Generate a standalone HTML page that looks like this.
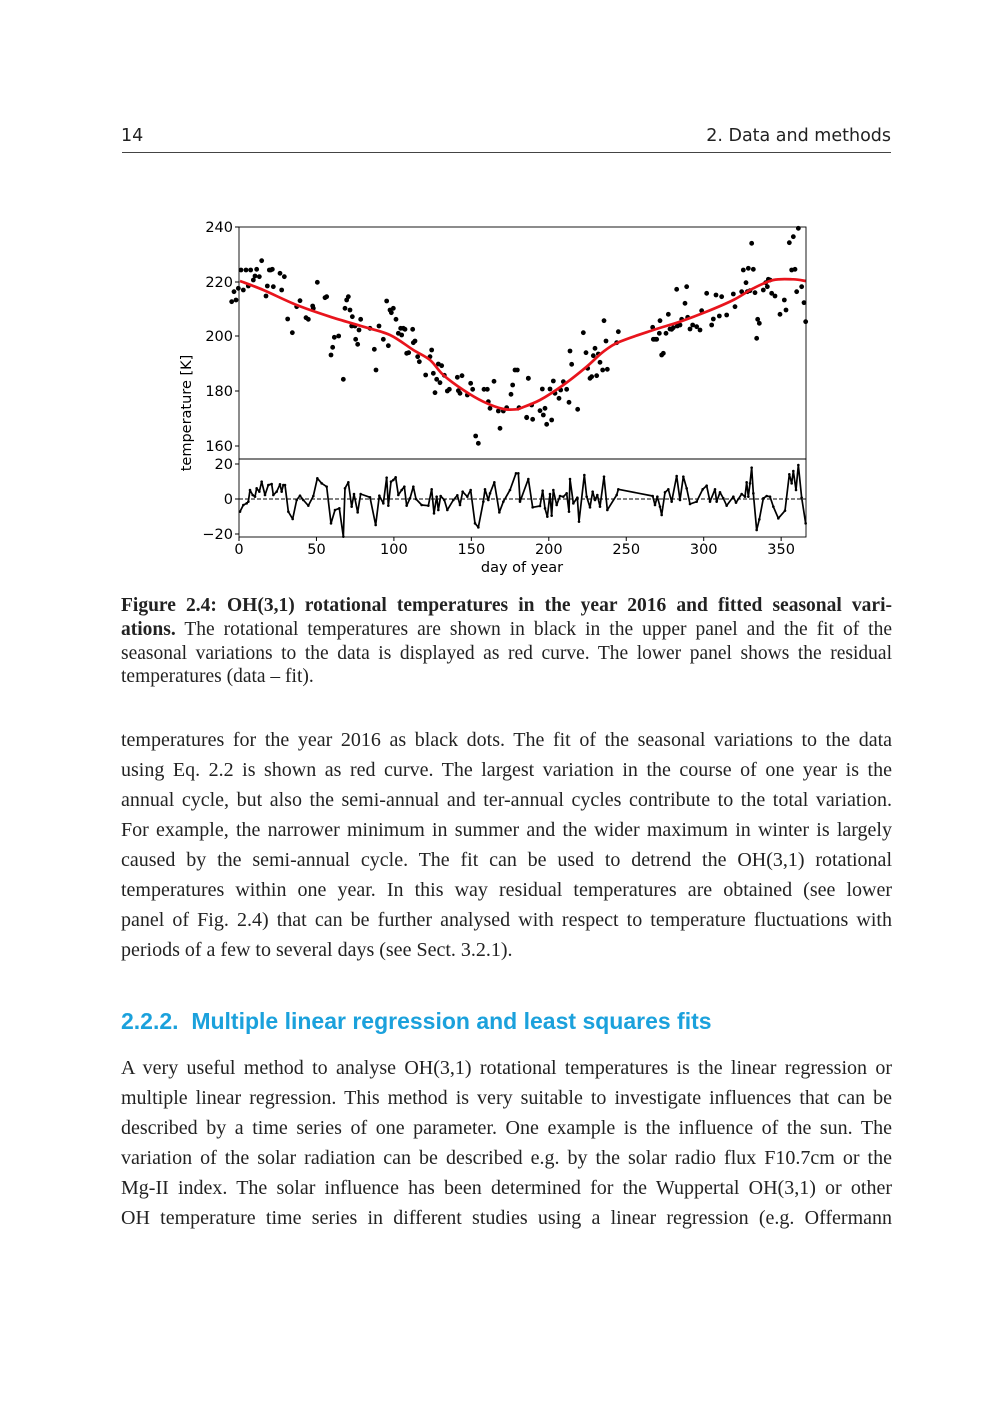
<!DOCTYPE html>
<html><head><meta charset="utf-8">
<style>
body{margin:0;background:#fff;}
.page{position:relative;width:1000px;height:1414px;overflow:hidden;font-family:"Liberation Serif",serif;color:#222;}
.hdr{position:absolute;top:126px;font-family:"DejaVu Sans","Liberation Sans",sans-serif;font-size:17.5px;}
.rule{position:absolute;left:122px;width:769px;top:152px;border-top:1px solid #444;}
.cap{position:absolute;left:121px;width:771px;top:594px;font-size:19.5px;line-height:23.8px;}
.body{position:absolute;left:121px;width:771px;font-size:20px;line-height:30px;}
.l{text-align:justify;text-align-last:justify;white-space:nowrap;}
.e{text-align:left;white-space:nowrap;}
h3{position:absolute;left:121px;top:1008px;margin:0;font-family:"Liberation Sans",sans-serif;font-weight:bold;font-size:23px;color:#1ba1dc;}
</style></head><body><div class="page">
<div class="hdr" style="left:121px">14</div>
<div class="hdr" style="right:109px">2. Data and methods</div>
<div class="rule"></div>
<svg id="ch" width="1000" height="600" style="position:absolute;left:0;top:0" font-family="DejaVu Sans, Liberation Sans, sans-serif" font-size="14.5"></svg>
<div class="cap">
<div class="l"><b>Figure 2.4: OH(3,1) rotational temperatures in the year 2016 and fitted seasonal vari-</b></div>
<div class="l"><b>ations.</b> The rotational temperatures are shown in black in the upper panel and the fit of the</div>
<div class="l">seasonal variations to the data is displayed as red curve. The lower panel shows the residual</div>
<div class="e">temperatures (data – fit).</div>
</div>
<div class="body" style="top:725px">
<div class="l">temperatures for the year 2016 as black dots. The fit of the seasonal variations to the data</div>
<div class="l">using Eq. 2.2 is shown as red curve. The largest variation in the course of one year is the</div>
<div class="l">annual cycle, but also the semi-annual and ter-annual cycles contribute to the total variation.</div>
<div class="l">For example, the narrower minimum in summer and the wider maximum in winter is largely</div>
<div class="l">caused by the semi-annual cycle. The fit can be used to detrend the OH(3,1) rotational</div>
<div class="l">temperatures within one year. In this way residual temperatures are obtained (see lower</div>
<div class="l">panel of Fig. 2.4) that can be further analysed with respect to temperature fluctuations with</div>
<div class="e">periods of a few to several days (see Sect. 3.2.1).</div>
</div>
<h3>2.2.2.&nbsp; Multiple linear regression and least squares fits</h3>
<div class="body" style="top:1053px">
<div class="l">A very useful method to analyse OH(3,1) rotational temperatures is the linear regression or</div>
<div class="l">multiple linear regression. This method is very suitable to investigate influences that can be</div>
<div class="l">described by a time series of one parameter. One example is the influence of the sun. The</div>
<div class="l">variation of the solar radiation can be described e.g. by the solar radio flux F10.7cm or the</div>
<div class="l">Mg-II index. The solar influence has been determined for the Wuppertal OH(3,1) or other</div>
<div class="l">OH temperature time series in different studies using a linear regression (e.g. Offermann</div>
</div>
<script>
var s=document.getElementById('ch'),h='';
function X(b,z){return b+z/3}function Y(z){return 220+z/3}
var d1=[5,245,12,215,18,240,25,205,33,150,40,210,48,150,55,198,62,150,70,180,75,168,80,148,88,170,95,122,108,228,112,198,118,150,122,150,127,148,130,200,150,160,155,210,163,170,173,297,187,338,200,260,210,242,228,293,235,298,248,258,250,265,262,187,285,233,290,230,303,405,308,382,313,352,326,348,340,478,345,265,350,240,355,230,360,270,367,290,365,318,375,318,377,358,383,373,387,330,392,298,420,325,433,388,438,450,447,318,460,358,470,243,475,377,480,270,484,278,490,265,498,298,505,340,512,325,515,345,520,325,525,328,530,400,536,398,548,328,550,368,555,363,563,410,568,425,587,465,600,410,605,390,610,460,615,518,620,478,625,432,630,488,635,437,643,466,652,513,658,508,682,472,685,512,690,520,696,467,712,525,722,490,728,508,737,648,745,670,762,508,772,508,775,545,780,565,792,484,805,573,810,625,820,573,830,563,843,523,848,495,855,450,862,450,867,563,890,593,895,475];
var d2=[20,592,25,475,38,598,35,555,60,572,67,507,70,585,75,565,80,613,90,507,95,600,100,483,105,520,117,535,122,510,130,485,140,508,147,547,150,393,155,433,173,568,190,338,198,398,203,445,210,475,215,470,220,407,225,385,230,467,235,402,240,427,248,450,252,302,258,363,262,448,290,368,295,335,398,322,400,358,405,358,410,358,418,340,420,302,425,405,430,400,438,340,445,283,450,327,455,328,460,323,470,208,472,318,480,315,485,298,495,250,500,200,503,292,510,327,518,315,530,320,540,330,545,272,560,220,575,315,580,297,588,225,598,288,605,230,620,285,640,222,645,260,665,215,670,150,678,188,682,215,685,145,690,212,695,70,700,148,705,218,710,355,713,298,718,310,730,210,737,188,742,200,745,178,750,180,755,220,765,228,780,283,793,240,798,270,808,68,815,150,820,50,825,148,830,215,835,25,845,200,852,248,857,305];
var r1=[30,875,40,855,50,850,55,845,60,810,68,825,75,830,80,805,88,815,95,785,105,825,115,795,125,792,130,825,140,815,150,793,155,815,160,795,165,795,175,875,188,897,200,840,210,827,220,840,235,857,250,828,262,775,275,790,290,800,303,910,315,870,328,865,340,950,345,805,355,787,365,860,372,822,383,877,392,822,420,832,437,915,448,827,460,850,470,773,475,857,483,785,490,780,497,772,505,825,515,810,523,800,530,857,540,835,550,800,558,837,575,855,595,857,605,808,612,880,620,830,625,870,632,828,643,840,652,870,670,840,682,826,690,855,698,815,712,830,722,810,735,910,745,922,760,845,765,808,775,840,780,820,793,787,808,877,820,845,840,810,858,760,865,760,870,840];
var r2=[0,845,25,777,38,862,60,858,68,812,75,865,82,890,90,822,95,887,100,810,110,855,120,828,130,830,140,820,147,875,150,777,160,850,172,833,177,905,193,765,200,830,210,862,218,815,225,840,232,825,240,860,252,770,262,870,290,825,295,808,398,828,405,855,412,830,420,860,425,885,435,817,445,808,455,845,470,768,480,840,490,770,500,805,510,852,530,845,548,808,560,797,570,845,585,808,590,845,600,817,610,835,620,857,640,830,648,848,665,822,675,830,680,787,685,830,690,790,695,743,700,820,710,930,718,898,730,835,740,828,750,830,760,860,775,895,795,872,808,763,815,790,820,753,828,810,835,735,845,833,857,910];
var c1=[30,183,100,210,200,255,300,290,400,320,480,345,550,390,600,420,640,465,700,510,760,545,820,567,860,568];
var c2=[0,565,60,540,130,495,200,440,250,395,300,365,400,330,480,305,560,275,640,240,700,205,760,180,820,178,857,183];
function pts(a,b){var o=[];for(var i=0;i<a.length;i+=2)o.push([X(b,a[i]),Y(a[i+1])]);return o}
h+='<line x1="239" y1="499" x2="806" y2="499" stroke="#000" stroke-width="1" stroke-dasharray="4,2"/>';
var cp=pts(c1,230).concat(pts(c2,520));
var p='M'+cp[0][0]+','+cp[0][1];
for(var i=0;i<cp.length-1;i++){var a=cp[Math.max(i-1,0)],b=cp[i],c=cp[i+1],d=cp[Math.min(i+2,cp.length-1)];
p+=' C'+(b[0]+(c[0]-a[0])/6)+','+(b[1]+(c[1]-a[1])/6)+' '+(c[0]-(d[0]-b[0])/6)+','+(c[1]-(d[1]-b[1])/6)+' '+c[0]+','+c[1];}
var rp=pts(r1,230).concat(pts(r2,520));
h+='<polyline fill="none" stroke="#000" stroke-width="1.7" stroke-linejoin="round" points="'+rp.map(function(q){return q.join(',')}).join(' ')+'"/>';
rp.forEach(function(q){h+='<circle cx="'+q[0]+'" cy="'+q[1]+'" r="1.3"/>'});
pts(d1,230).concat(pts(d2,520)).forEach(function(q){h+='<circle cx="'+q[0]+'" cy="'+q[1]+'" r="2.4"/>'});
h+='<path d="'+p+'" fill="none" stroke="#e8141c" stroke-width="2.7"/>';
h+='<rect x="239" y="227" width="567" height="232" fill="none" stroke="#000" stroke-width="0.9"/>';
h+='<rect x="239" y="459" width="567" height="78" fill="none" stroke="#000" stroke-width="0.9"/>';
[[240,227],[220,282],[200,336],[180,391],[160,446]].forEach(function(t){h+='<line x1="235" y1="'+t[1]+'" x2="239" y2="'+t[1]+'" stroke="#000"/><text x="233" y="'+(t[1]+5)+'" text-anchor="end">'+t[0]+'</text>'});
[["20",464],["0",499],["\u221220",534]].forEach(function(t){h+='<line x1="235" y1="'+t[1]+'" x2="239" y2="'+t[1]+'" stroke="#000"/><text x="233" y="'+(t[1]+5)+'" text-anchor="end">'+t[0]+'</text>'});
[0,50,100,150,200,250,300,350].forEach(function(v){var x=239+v*1.549;h+='<line x1="'+x+'" y1="537" x2="'+x+'" y2="541" stroke="#000"/><text x="'+x+'" y="554" text-anchor="middle">'+v+'</text>'});
h+='<text x="522" y="572" text-anchor="middle">day of year</text>';
h+='<text transform="translate(191,413) rotate(-90)" text-anchor="middle">temperature [K]</text>';
s.innerHTML=h;
</script>
</div></body></html>
